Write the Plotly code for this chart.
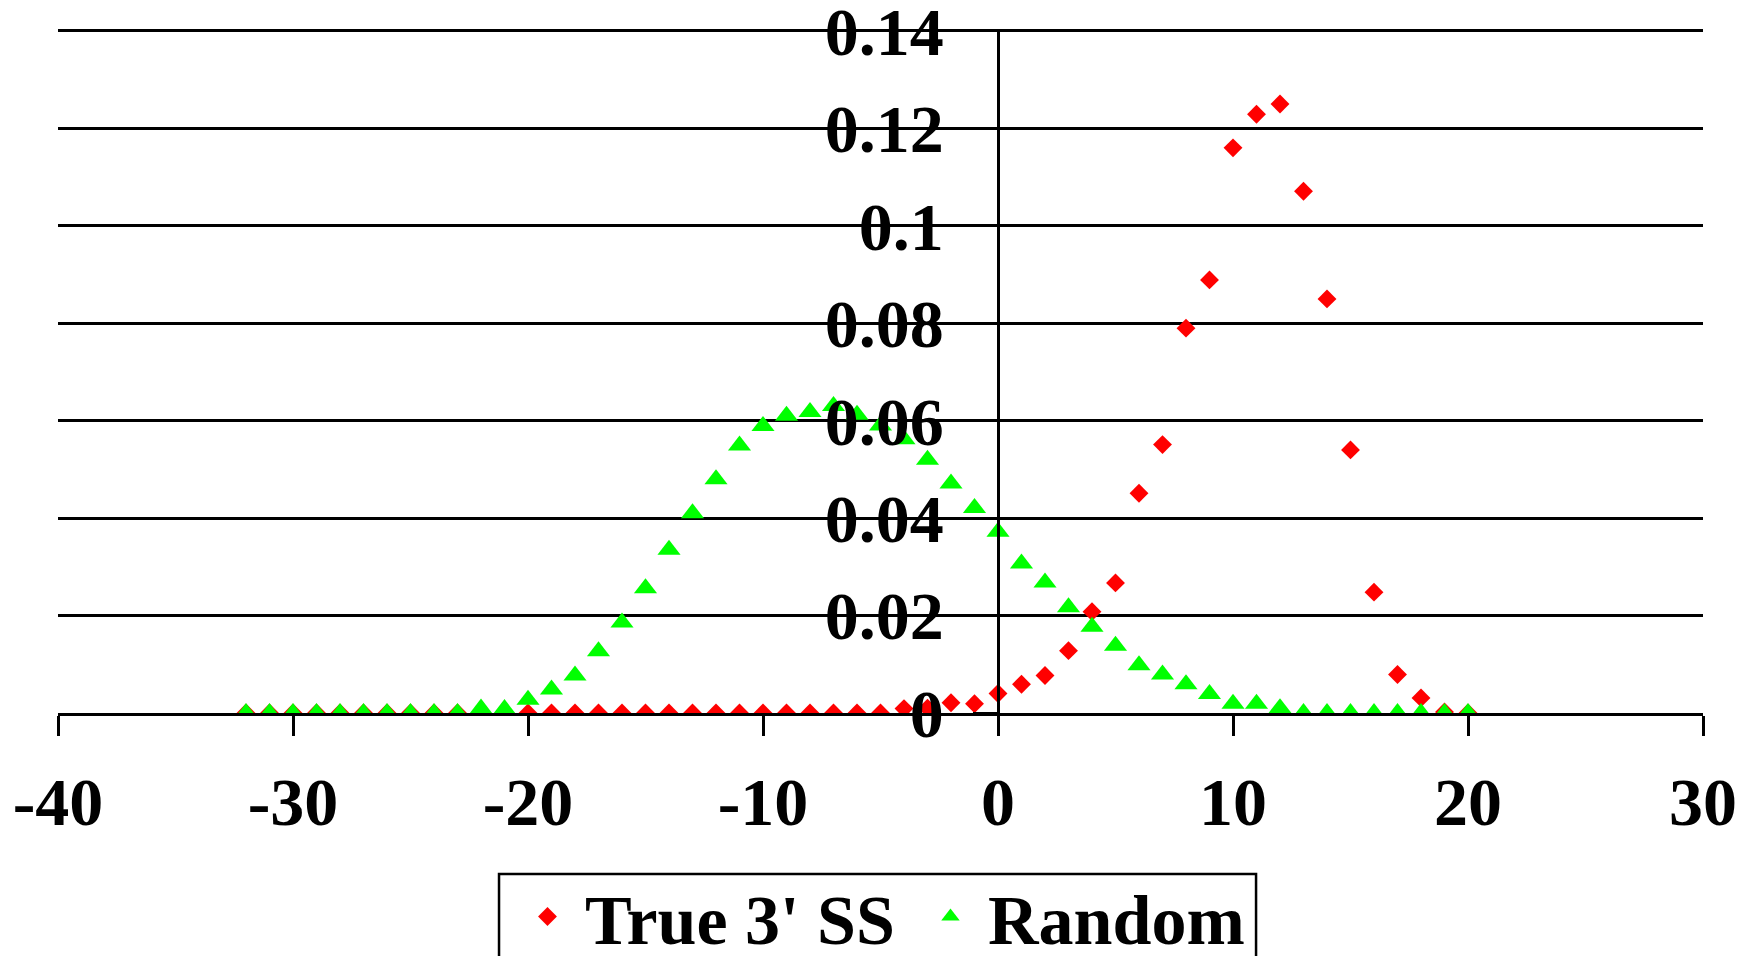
import plotly.graph_objects as go

x_vals = list(range(-32, 21))

# x = -32 ... 20
true_3ss = [0, 0, 0, 0, 0, 0, 0, 0, 0, 0,          # -32..-23
            0, 0, 0, 0, 0, 0, 0, 0, 0, 0,          # -22..-13
            0, 0, 0, 0, 0, 0, 0, 0,                # -12..-5
            0.0009, 0.001, 0.0021, 0.0019,         # -4..-1
            0.004, 0.0059, 0.0077, 0.0128, 0.0208, 0.0267, 0.0451, 0.0551,  # 0..7
            0.079, 0.0889, 0.116, 0.1229, 0.125, 0.1071, 0.085, 0.054,      # 8..15
            0.0248, 0.0079, 0.0031, 0.0002, 0]                               # 16..20

random_vals = [0, 0, 0, 0, 0, 0, 0, 0, 0, 0,                                 # -32..-23
               0.0009, 0.0008, 0.0027, 0.0048, 0.0077, 0.0127, 0.0186,       # -22..-16
               0.0256, 0.0335, 0.041, 0.048, 0.0549, 0.0589, 0.061,          # -15..-9
               0.0618, 0.063, 0.0612, 0.059, 0.0562, 0.052, 0.0471, 0.0421,  # -8..-1
               0.0372, 0.0307, 0.0268, 0.0217, 0.0177, 0.0138, 0.0098,       # 0..6
               0.0079, 0.0059, 0.0039, 0.0019, 0.0019, 0.001,                # 7..12
               0, 0, 0, 0, 0, 0, 0, 0]                                        # 13..20

x_ticks = [-40, -30, -20, -10, 0, 10, 20, 30]
y_ticks = [0, 0.02, 0.04, 0.06, 0.08, 0.1, 0.12, 0.14]
y_tick_text = ["0", "0.02", "0.04", "0.06", "0.08", "0.1", "0.12", "0.14"]

FONT = "Liberation Serif"
TICK_FONT = dict(family=FONT, size=68, color="black", weight="bold")

fig = go.Figure()
fig.add_trace(go.Scatter(
    x=x_vals, y=true_3ss, mode="markers", name="\u00a0True 3' SS",
    marker=dict(symbol="diamond", size=14.5, color="#ff0000", line=dict(width=0)),
))
fig.add_trace(go.Scatter(
    x=x_vals, y=random_vals, mode="markers", name="\u00a0Random",
    marker=dict(symbol="triangle-up", size=20, color="#00ff00", line=dict(width=0)),
))

# legend frame (reference box runs off the bottom of the page)
fig.add_shape(type="rect", xref="paper", yref="paper",
              x0=0.2681, x1=0.7283, y0=-0.2354, y1=-0.45,
              line=dict(color="black", width=2.5), fillcolor="rgba(0,0,0,0)",
              layer="above")

fig.update_layout(
    width=1752, height=956,
    margin=dict(l=58, r=49, t=29, b=243, autoexpand=False),
    paper_bgcolor="white", plot_bgcolor="white",
    font=dict(family=FONT, size=62, color="black"),
    showlegend=True,
    legend=dict(
        orientation="h", x=0.2854, xanchor="left", y=-0.2215, yanchor="top",
        borderwidth=0, bgcolor="rgba(0,0,0,0)",
        font=dict(family=FONT, size=70, color="black", weight="bold"),
        entrywidth=358, entrywidthmode="pixels",
    ),
)

fig.update_xaxes(
    range=[-40, 30], tickvals=x_ticks, ticktext=[str(v) for v in x_ticks],
    showgrid=False, zeroline=False,
    showline=True, linecolor="black", linewidth=2.5,
    ticks="outside", ticklen=20, tickwidth=2.5, tickcolor="black",
    tickfont=TICK_FONT,
    ticklabelstandoff=8,
    ticklabeloverflow="allow",
)
fig.update_yaxes(
    range=[0, 0.1404], tickvals=y_ticks, ticktext=y_tick_text,
    anchor="free", position=40 / 70,
    showgrid=True, gridcolor="black", gridwidth=2.5,
    zeroline=False,
    showline=True, linecolor="black", linewidth=2.5,
    ticks="outside", ticklen=24, tickwidth=2.5, tickcolor="black",
    tickfont=TICK_FONT,
    ticklabelstandoff=16,
    ticklabeloverflow="allow",
)

fig.write_html("out.html")
